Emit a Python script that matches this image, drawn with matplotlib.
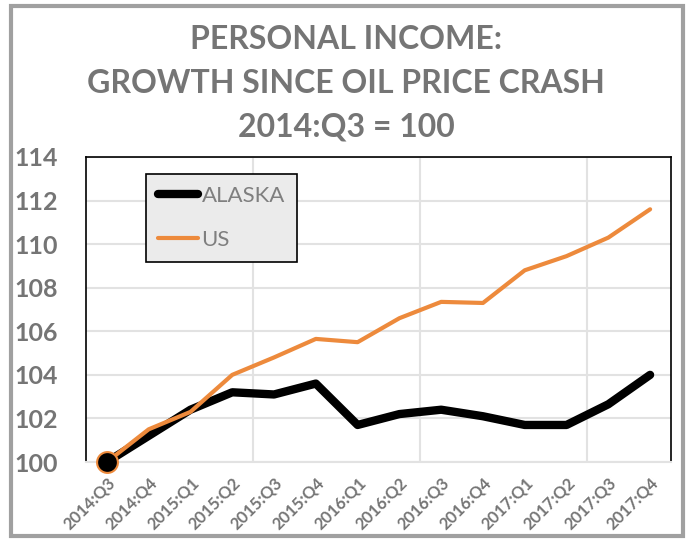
import matplotlib
matplotlib.use("Agg")
import matplotlib.pyplot as plt
from matplotlib.patches import Rectangle
from matplotlib.ticker import FixedLocator

# ── Data ────────────────────────────────────────────────────────────────────
quarters = ["2014:Q3", "2014:Q4", "2015:Q1", "2015:Q2", "2015:Q3", "2015:Q4",
            "2016:Q1", "2016:Q2", "2016:Q3", "2016:Q4", "2017:Q1", "2017:Q2",
            "2017:Q3", "2017:Q4"]
alaska = [100.0, 101.2, 102.4, 103.2, 103.1, 103.6, 101.7, 102.2, 102.4,
          102.1, 101.7, 101.7, 102.65, 104.0]
us = [100.0, 101.5, 102.3, 104.0, 104.8, 105.65, 105.5, 106.6, 107.35,
      107.3, 108.8, 109.45, 110.3, 111.6]
y_ticks = [100, 102, 104, 106, 108, 110, 112, 114]

GREY = "#757575"
ORANGE = "#ed8a3c"
plt.rcParams["font.family"] = ["Lato", "DejaVu Sans"]

fig = plt.figure(figsize=(6.92, 5.42), dpi=100)
W, H = 692, 542
ax = fig.add_axes([86 / W, 1 - 462 / H, (671 - 86) / W, (462 - 157) / H])

x = list(range(len(quarters)))
ax.plot(x, alaska, color="black", linewidth=6, solid_capstyle="round",
        solid_joinstyle="round", label="ALASKA", zorder=3)
ax.plot(x, us, color=ORANGE, linewidth=3, solid_capstyle="round",
        solid_joinstyle="round", label="US", zorder=4)
ax.plot([x[0]], [alaska[0]], marker="o", markersize=15, color="black",
        markeredgecolor=ORANGE, markeredgewidth=1.5, zorder=5, clip_on=False)

ax.set_xlim(-0.5, len(quarters) - 0.5)
ax.set_ylim(100, 114)
ax.set_yticks(y_ticks)
ax.set_xticks(x)
ax.set_xticklabels(quarters, rotation=45, ha="right", va="top",
                   rotation_mode="anchor", fontsize=12, fontweight="bold",
                   color=GREY)
ax.set_yticklabels([str(v) for v in y_ticks], fontsize=18, fontweight="bold",
                   color=GREY)
ax.tick_params(axis="x", length=0, pad=9)
ax.tick_params(axis="y", length=0, pad=20)

ax.xaxis.set_minor_locator(FixedLocator([3.5, 7.5, 11.5]))
ax.grid(axis="y", color="#e2e2e2", linewidth=1.5)
ax.grid(axis="x", which="minor", color="#e2e2e2", linewidth=1.5)
ax.tick_params(which="minor", length=0)
ax.set_axisbelow(True)

for s in ["top", "left", "right"]:
    ax.spines[s].set_color("black")
    ax.spines[s].set_linewidth(1.2)
ax.spines["bottom"].set_color("#e2e2e2")
ax.spines["bottom"].set_linewidth(1.5)

leg = ax.legend(loc="upper left", bbox_to_anchor=((146 - 86) / 585, (462 - 174) / 305),
                fontsize=16, frameon=True, fancybox=False, handlelength=1.8,
                handletextpad=0.15, borderpad=0.55, labelspacing=1.05,
                borderaxespad=0)
leg.get_frame().set_facecolor("#ebebeb")
leg.get_frame().set_edgecolor("black")
leg.get_frame().set_linewidth(1.2)
leg.get_frame().set_alpha(1)
for t in leg.get_texts():
    t.set_color("#7f7f7f")

fig.text(0.5, 1 - 25 / H, "PERSONAL INCOME:\nGROWTH SINCE OIL PRICE CRASH\n2014:Q3 = 100",
         ha="center", va="top", fontsize=23, fontweight="bold", color=GREY,
         linespacing=1.62, transform=fig.transFigure)

fig.patches.append(Rectangle((11 / W, 6 / H), (683 - 11) / W, (536 - 6) / H,
                             transform=fig.transFigure, fill=False,
                             edgecolor="#a0a0a0", linewidth=3))

fig.savefig("out.png", dpi=100)
